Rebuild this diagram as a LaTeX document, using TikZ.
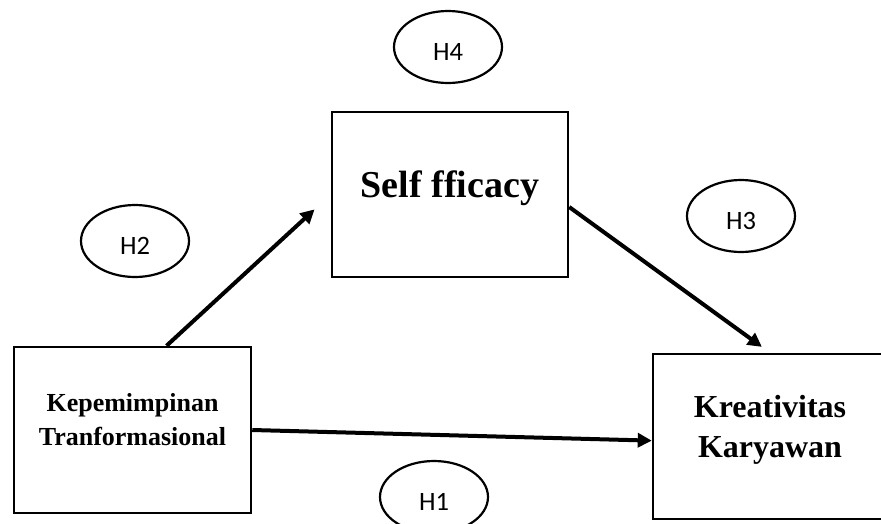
\documentclass[tikz,border=0pt]{standalone}
\usepackage{fontspec}
\setmainfont{Liberation Serif}
\newfontfamily\hypfont{Carlito}
\usetikzlibrary{arrows.meta,shapes.geometric}

\begin{document}
\begin{tikzpicture}[
  x=1pt, y=-1pt,
  >={Triangle[length=14pt,width=14pt]},
  var/.style={draw, line width=2.5pt, inner sep=0pt},
  varlabel/.style={font=\bfseries, align=center, inner sep=0pt},
  hyp/.style={draw, ellipse, line width=2.2pt, inner sep=0pt,
              minimum width=108pt, minimum height=72pt,
              font=\hypfont\fontsize{26.5}{30}\selectfont,
              text height=26pt, text depth=0pt},
  link/.style={->, line width=4pt},
]
\useasboundingbox (0,0) rectangle (881,523);
\clip (0,0) rectangle (881,523);

% variables
\node[var, minimum width=237pt, minimum height=166pt] (kt) at (132.5,430) {};
\node[var, minimum width=236pt, minimum height=165pt] (se) at (450,194.5) {};
\node[var, minimum width=234pt, minimum height=165pt] (kk) at (770,436.5) {};

\node[varlabel, font=\bfseries\fontsize{26}{34}\selectfont] (ktname) at (132.5,420)
  {Kepemimpinan\\Tranformasional};
\node[varlabel, font=\bfseries\fontsize{38}{44}\selectfont] (sename) at (450,188)
  {Self fficacy};
\node[varlabel, font=\bfseries\fontsize{32}{40}\selectfont] (kkname) at (770,429.5)
  {Kreativitas\\Karyawan};

% paths
\draw[link, shorten >=22pt] (kt.68) -- (se.west);
\draw[link, shorten >=10pt] (se.-6) -- (kk.north);
\draw[link] (kt.east) -- (kk.182);

% hypotheses
\node[hyp] (h4) at (448,47) {H4};
\node[hyp] (h2) at (135,241) {H2};
\node[hyp] (h3) at (741,216) {H3};
\node[hyp] (h1) at (434,497) {H1};
\end{tikzpicture}
\end{document}
